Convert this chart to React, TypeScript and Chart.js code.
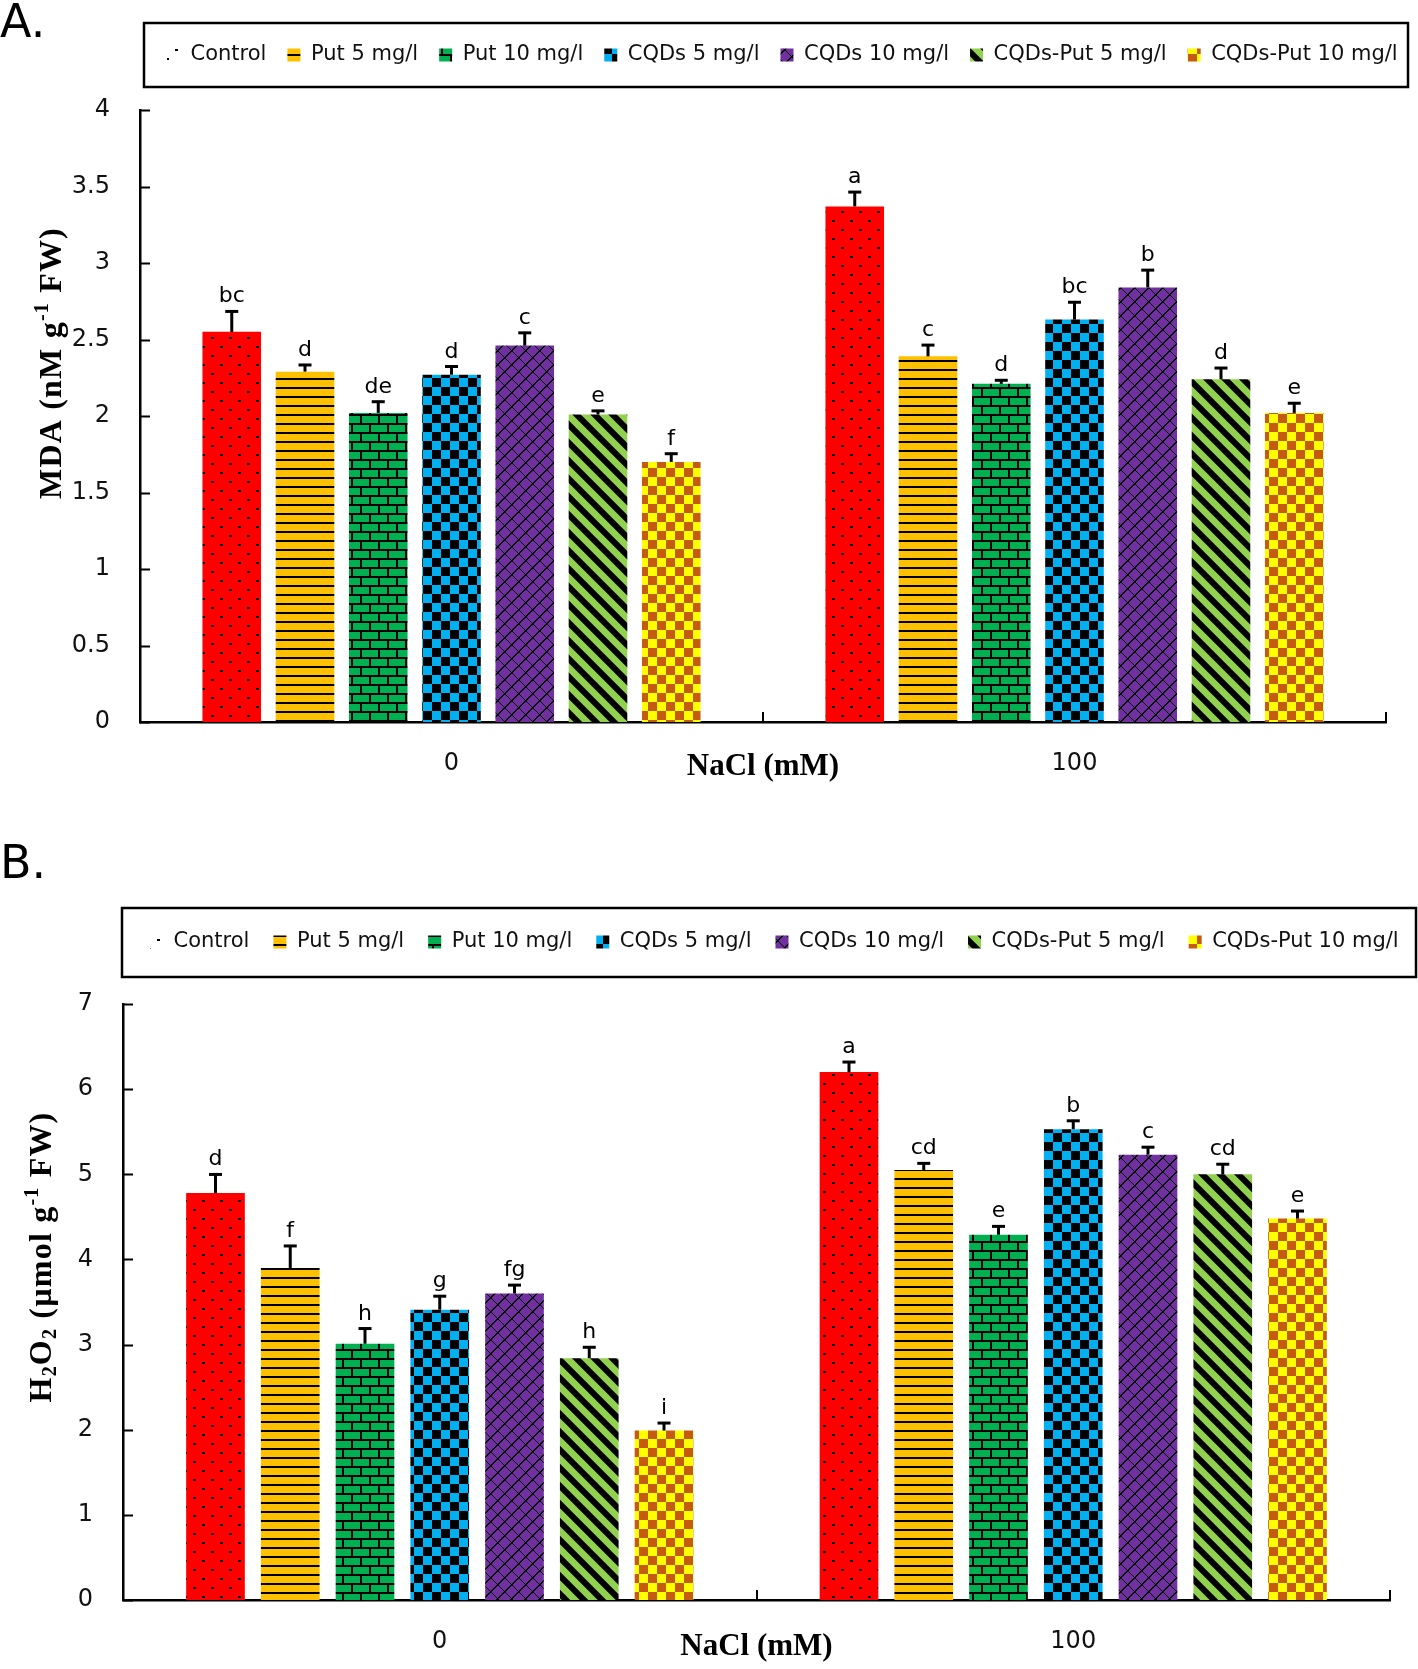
import React, { useEffect, useRef } from "react";
import { Chart, registerables } from "chart.js";

Chart.register(...registerables);

// ---------------- data ----------------
const categories = ["0", "100"];
const seriesNames = [
  "Control",
  "Put 5 mg/l",
  "Put 10 mg/l",
  "CQDs 5 mg/l",
  "CQDs 10 mg/l",
  "CQDs-Put 5 mg/l",
  "CQDs-Put 10 mg/l",
];

// Panel A: MDA (nM g-1 FW)
const mdaAt0 = [2.55, 2.29, 2.02, 2.27, 2.46, 2.01, 1.7];
const mdaAt100 = [3.37, 2.39, 2.21, 2.63, 2.84, 2.24, 2.02];
const mdaErrAt0 = [0.14, 0.05, 0.08, 0.06, 0.09, 0.03, 0.06];
const mdaErrAt100 = [0.1, 0.08, 0.03, 0.12, 0.12, 0.08, 0.07];
const mdaLettersAt0 = ["bc", "d", "de", "d", "c", "e", "f"];
const mdaLettersAt100 = ["a", "c", "d", "bc", "b", "d", "e"];
const mdaAxisMax = 4;
const mdaAxisStep = 0.5;

// Panel B: H2O2 (µmol g-1 FW)
const h2o2At0 = [4.78, 3.9, 3.01, 3.41, 3.6, 2.84, 1.99];
const h2o2At100 = [6.2, 5.05, 4.29, 5.53, 5.23, 5.0, 4.48];
const h2o2ErrAt0 = [0.23, 0.27, 0.19, 0.17, 0.11, 0.14, 0.1];
const h2o2ErrAt100 = [0.13, 0.09, 0.11, 0.11, 0.1, 0.13, 0.1];
const h2o2LettersAt0 = ["d", "f", "h", "g", "fg", "h", "i"];
const h2o2LettersAt100 = ["a", "cd", "e", "b", "c", "cd", "e"];
const h2o2AxisMax = 7;
const h2o2AxisStep = 1;

// ---------------- styles ----------------
const seriesBg = ["#FF0000", "#FFC000", "#00B050", "#00B0F0", "#7030A0", "#92D050", "#FFFF00"];
const seriesFg = ["#000000", "#000000", "#000000", "#000000", "#000000", "#000000", "#C55A11"];
const seriesPattern = ["dots", "hlines", "brick", "checker", "diamond", "diag", "checker"];

const SANS = "'DejaVu Sans', Verdana, sans-serif";
const SERIF = "'Liberation Serif', 'Times New Roman', serif";

function makeTile(kind: string, bg: string, fg: string): HTMLCanvasElement {
  const c = document.createElement("canvas");
  const S = 18;
  c.width = S;
  c.height = S;
  if (kind === "hlines") c.height = 9;
  if (kind === "diamond") {
    c.width = 14;
    c.height = 14;
  }
  const g = c.getContext("2d")!;
  g.fillStyle = bg;
  g.fillRect(0, 0, c.width, c.height);
  g.fillStyle = fg;
  g.strokeStyle = fg;
  if (kind === "hlines") {
    g.fillRect(0, 0, S, 2);
  } else if (kind === "dots") {
    g.fillRect(4, 4, 3, 2);
    g.fillRect(13, 13, 3, 2);
  } else if (kind === "brick") {
    g.fillRect(0, 0, S, 2);
    g.fillRect(0, 9, S, 2);
    g.fillRect(0, 0, 2, 9);
    g.fillRect(9, 9, 2, 9);
  } else if (kind === "checker") {
    g.fillRect(0, 0, 9, 9);
    g.fillRect(9, 9, 9, 9);
  } else if (kind === "diamond") {
    const n = 14;
    for (let t = 0; t < n; t++) {
      g.fillRect(t, (7 - t + n) % n, 1, 1);
      g.fillRect(t, (7 + t) % n, 1, 1);
      g.fillRect(t, (8 - t + n) % n, 1, 1);
    }
  } else if (kind === "diag") {
    g.lineWidth = 6;
    g.beginPath();
    for (const k of [-1, 0, 1]) {
      g.moveTo(k * S - 3, -3);
      g.lineTo(k * S + S + 3, S + 3);
    }
    g.stroke();
  }
  return c;
}

type Seg = { t: string; k?: "sup" | "sub" };

interface PanelSpec {
  label: string;
  labelBaseline: number;
  top: number;
  width: number;
  height: number;
  area: { left: number; right: number; top: number; bottom: number };
  at0: number[];
  at100: number[];
  err0: number[];
  err100: number[];
  letters0: string[];
  letters100: string[];
  yMax: number;
  yStep: number;
  catPct: number;
  barPct: number;
  legendLeft: number;
  legendTop: number;
  legendPad: number;
  frame: { x: number; y: number; w: number; h: number };
  yTitle: Seg[];
  yTitleCenter: { x: number; y: number };
  xTitlePadBottom: number;
  xTickPad: number;
  yTickPad: number;
}

const panelA: PanelSpec = {
  label: "A.",
  labelBaseline: 37,
  top: 0,
  width: 1418,
  height: 800,
  area: { left: 140, right: 1386, top: 110, bottom: 722 },
  at0: mdaAt0,
  at100: mdaAt100,
  err0: mdaErrAt0,
  err100: mdaErrAt100,
  letters0: mdaLettersAt0,
  letters100: mdaLettersAt100,
  yMax: mdaAxisMax,
  yStep: mdaAxisStep,
  catPct: 0.823,
  barPct: 0.8,
  legendLeft: 146,
  legendTop: 23.5,
  legendPad: 21,
  frame: { x: 144, y: 23, w: 1264, h: 64 },
  yTitle: [{ t: "MDA (nM g" }, { t: "-1", k: "sup" }, { t: " FW)" }],
  yTitleCenter: { x: 50, y: 363 },
  xTitlePadBottom: 14,
  xTickPad: 27,
  yTickPad: 30,
};

const panelB: PanelSpec = {
  label: "B.",
  labelBaseline: 78,
  top: 800,
  width: 1418,
  height: 869,
  area: { left: 123, right: 1390, top: 204, bottom: 800 },
  at0: h2o2At0,
  at100: h2o2At100,
  err0: h2o2ErrAt0,
  err100: h2o2ErrAt100,
  letters0: h2o2LettersAt0,
  letters100: h2o2LettersAt100,
  yMax: h2o2AxisMax,
  yStep: h2o2AxisStep,
  catPct: 0.826,
  barPct: 0.785,
  legendLeft: 126,
  legendTop: 107.5,
  legendPad: 24,
  frame: { x: 122, y: 108, w: 1294, h: 69 },
  yTitle: [
    { t: "H" },
    { t: "2", k: "sub" },
    { t: "O" },
    { t: "2", k: "sub" },
    { t: " (µmol g" },
    { t: "-1", k: "sup" },
    { t: " FW)" },
  ],
  yTitleCenter: { x: 40, y: 457 },
  xTitlePadBottom: 3,
  xTickPad: 27,
  yTickPad: 30,
};

function drawRich(ctx: CanvasRenderingContext2D, segs: Seg[], cx: number, cy: number, size: number) {
  const big = `bold ${size}px ${SERIF}`;
  const small = `bold ${Math.round(size * 0.62)}px ${SERIF}`;
  ctx.save();
  ctx.translate(cx, cy);
  ctx.rotate(-Math.PI / 2);
  ctx.fillStyle = "#000";
  ctx.textBaseline = "alphabetic";
  ctx.textAlign = "left";
  try {
    (ctx as any).letterSpacing = "1.2px";
  } catch (e) {
    /* ignore */
  }
  const widths = segs.map((s) => {
    ctx.font = s.k ? small : big;
    return ctx.measureText(s.t).width;
  });
  const total = widths.reduce((a, b) => a + b, 0);
  let x = -total / 2;
  const base = size * 0.33;
  segs.forEach((s, i) => {
    ctx.font = s.k ? small : big;
    const dy = s.k === "sup" ? -size * 0.38 : s.k === "sub" ? size * 0.16 : 0;
    ctx.fillText(s.t, x, base + dy);
    x += widths[i];
  });
  ctx.restore();
}

function Panel({ spec }: { spec: PanelSpec }) {
  const ref = useRef<HTMLCanvasElement>(null);
  useEffect(() => {
    const canvas = ref.current!;
    const ctx = canvas.getContext("2d")!;
    const patterns = seriesPattern.map((k, i) =>
      ctx.createPattern(makeTile(k, seriesBg[i], seriesFg[i]), "repeat")!
    );
    const controlLegendFill = ctx.createPattern(makeTile("dots", "#FFFFFF", "#000000"), "repeat")!;
    const errs = [spec.err0, spec.err100];
    const letters = [spec.letters0, spec.letters100];

    const datasets = seriesNames.map((name, i) => ({
      label: name,
      data: [spec.at0[i], spec.at100[i]],
      backgroundColor: patterns[i],
      borderWidth: 0,
      categoryPercentage: spec.catPct,
      barPercentage: spec.barPct,
    }));

    const deco = {
      id: "deco",
      afterInit(chart: any) {
        const lg = chart.legend;
        if (lg) {
          const orig = lg.fit;
          lg.fit = function () {
            orig.call(this);
            this.height = spec.area.top;
          };
        }
      },
      afterLayout(chart: any) {
        const lg = chart.legend;
        if (lg) {
          lg.left = spec.legendLeft;
          lg.right = chart.width + 2000;
          lg.top = spec.legendTop;
          lg.bottom = spec.legendTop + 200;
        }
      },
      afterDatasetsDraw(chart: any) {
        const c = chart.ctx as CanvasRenderingContext2D;
        const ys = chart.scales.y;
        c.save();
        chart.data.datasets.forEach((ds: any, i: number) => {
          const meta = chart.getDatasetMeta(i);
          meta.data.forEach((el: any, j: number) => {
            const v = ds.data[j] as number;
            const e = errs[j][i];
            const yTop = ys.getPixelForValue(v + e);
            c.strokeStyle = "#000";
            c.lineWidth = 3;
            c.beginPath();
            c.moveTo(el.x, el.y);
            c.lineTo(el.x, yTop);
            c.stroke();
            c.beginPath();
            c.moveTo(el.x - 6.5, yTop + 1);
            c.lineTo(el.x + 6.5, yTop + 1);
            c.stroke();
            c.fillStyle = "#000";
            c.font = `22px ${SANS}`;
            c.textAlign = "center";
            c.textBaseline = "alphabetic";
            c.fillText(letters[j][i], el.x, yTop - 8);
          });
        });
        c.restore();
      },
      afterDraw(chart: any) {
        const c = chart.ctx as CanvasRenderingContext2D;
        const ys = chart.scales.y;
        const xs = chart.scales.x;
        const area = chart.chartArea;
        c.save();
        // inward tick marks
        c.strokeStyle = "#000";
        c.lineWidth = 2;
        c.beginPath();
        ys.ticks.forEach((t: any) => {
          const py = Math.round(ys.getPixelForValue(t.value)) + 0.5;
          c.moveTo(area.left, py);
          c.lineTo(area.left + 10, py);
        });
        for (let i = 1; i <= categories.length; i++) {
          const px = Math.round(xs.getPixelForValue(i - 0.5));
          c.moveTo(px, area.bottom);
          c.lineTo(px, area.bottom - 10);
        }
        c.stroke();
        // legend frame
        c.lineWidth = 2.5;
        c.strokeRect(spec.frame.x, spec.frame.y, spec.frame.w, spec.frame.h);
        // y axis title
        drawRich(c, spec.yTitle, spec.yTitleCenter.x, spec.yTitleCenter.y, 32);
        // panel label
        c.fillStyle = "#000";
        c.font = `46px ${SANS}`;
        c.textAlign = "left";
        c.textBaseline = "alphabetic";
        c.fillText(spec.label, 0, spec.labelBaseline);
        c.restore();
      },
    };

    const chart = new Chart(canvas, {
      type: "bar",
      data: { labels: categories, datasets },
      options: {
        responsive: false,
        maintainAspectRatio: false,
        animation: false,
        devicePixelRatio: 1,
        events: [],
        layout: {
          padding: { left: 0, top: 0, bottom: 0, right: spec.width - spec.area.right },
        },
        plugins: {
          tooltip: { enabled: false },
          title: { display: false },
          legend: {
            display: true,
            position: "top",
            align: "start",
            labels: {
              boxWidth: 13,
              boxHeight: 13,
              padding: spec.legendPad,
              color: "#111",
              font: { family: SANS, size: 21 },
              generateLabels: (ch: any) => {
                const items = (Chart.defaults.plugins.legend.labels as any).generateLabels(ch);
                items.forEach((it: any) => {
                  it.lineWidth = 0;
                  it.strokeStyle = "rgba(0,0,0,0)";
                });
                if (items[0]) items[0].fillStyle = controlLegendFill;
                return items;
              },
            },
          },
        },
        scales: {
          x: {
            grid: { display: false, drawTicks: false },
            border: { display: true, color: "#000", width: 2.5 },
            ticks: { color: "#111", font: { family: SANS, size: 24 }, padding: spec.xTickPad },
            title: {
              display: true,
              text: "NaCl (mM)",
              color: "#000",
              font: { family: SERIF, size: 31, weight: "bold" },
              padding: { top: 0, bottom: spec.xTitlePadBottom },
            },
            afterFit: (s: any) => {
              s.height = spec.height - spec.area.bottom;
            },
          },
          y: {
            min: 0,
            max: spec.yMax,
            grid: { display: false, drawTicks: false },
            border: { display: true, color: "#000", width: 2.5 },
            ticks: {
              stepSize: spec.yStep,
              color: "#111",
              font: { family: SANS, size: 24 },
              padding: spec.yTickPad,
              callback: (v: any) => String(Math.round(Number(v) * 100) / 100),
            },
            afterFit: (s: any) => {
              s.width = spec.area.left;
            },
          },
        },
      } as any,
      plugins: [deco],
    });
    return () => chart.destroy();
  }, [spec]);
  return (
    <canvas
      ref={ref}
      width={spec.width}
      height={spec.height}
      style={{ position: "absolute", left: 0, top: spec.top, width: spec.width, height: spec.height }}
    />
  );
}

export default function App() {
  return (
    <div
      style={{
        position: "absolute",
        left: 0,
        top: 0,
        width: 1418,
        height: 1669,
        background: "#ffffff",
        overflow: "hidden",
      }}
    >
      <Panel spec={panelA} />
      <Panel spec={panelB} />
    </div>
  );
}
